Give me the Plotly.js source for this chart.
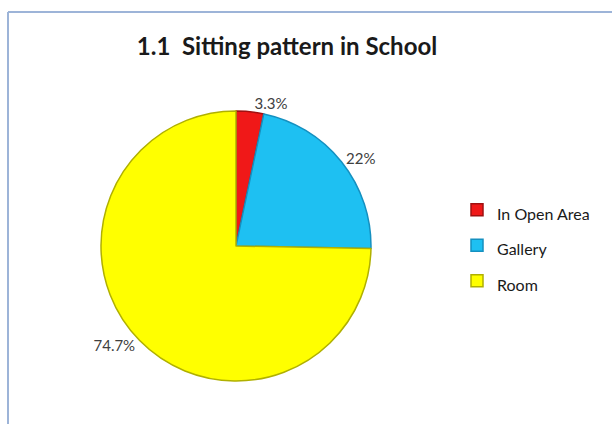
<!DOCTYPE html>
<html>
<head>
<meta charset="utf-8">
<script src="https://cdn.plot.ly/plotly-3.0.1.min.js"></script>
<style>html,body{margin:0;padding:0;background:#fff;}#chart{width:612px;height:424px;}</style>
</head>
<body>
<div id="chart"></div>
<script>
const categories = ["In Open Area", "Gallery", "Room"];
const values = [3.3, 22, 74.7];
const sliceColors = ["#f01818", "#1ec0f2", "#ffff00"];
const edgeColors = ["#a01010", "#1590c0", "#b0b000"];

const trace = {
  type: "pie",
  labels: categories.map(c => '<span style="font-size:16px">' + c + '</span>'),
  values: values,
  sort: false,
  direction: "clockwise",
  rotation: 0,
  marker: { colors: sliceColors, line: { color: edgeColors, width: 1.5 } },
  texttemplate: "%{value}%",
  textposition: "outside",
  textfont: { family: "Lato, sans-serif", size: 15, color: "#404040" },
  hoverinfo: "label+percent",
  domain: { x: [101/612, 371/612], y: [1 - 381/424, 1 - 111/424] },
  automargin: false
};

const layout = {
  width: 612, height: 424,
  margin: { l: 0, r: 0, t: 0, b: 0 },
  paper_bgcolor: "#ffffff",
  title: {
    text: "<b>1.1  Sitting pattern in School</b>",
    font: { family: "Lato, sans-serif", size: 24, color: "#1a1a1a" },
    x: 287/612, xanchor: "center", y: 1 - 47/424, yanchor: "middle"
  },
  showlegend: true,
  legend: {
    x: 457/612, y: 1 - 187/424, xanchor: "left", yanchor: "top",
    font: { family: "Lato, sans-serif", size: 25, color: "#1a1a1a" },
    itemwidth: 30, bgcolor: "rgba(0,0,0,0)"
  },
  shapes: [
    { type: "line", xref: "paper", yref: "paper", x0: 8/612, x1: 1, y0: 1 - 12/424, y1: 1 - 12/424,
      line: { color: "#9db4d8", width: 2 } },
    { type: "line", xref: "paper", yref: "paper", x0: 8/612, x1: 8/612, y0: 0, y1: 1 - 12/424,
      line: { color: "#9db4d8", width: 2 } }
  ]
};

Plotly.newPlot("chart", [trace], layout, { displayModeBar: false, staticPlot: true });
</script>
</body>
</html>
